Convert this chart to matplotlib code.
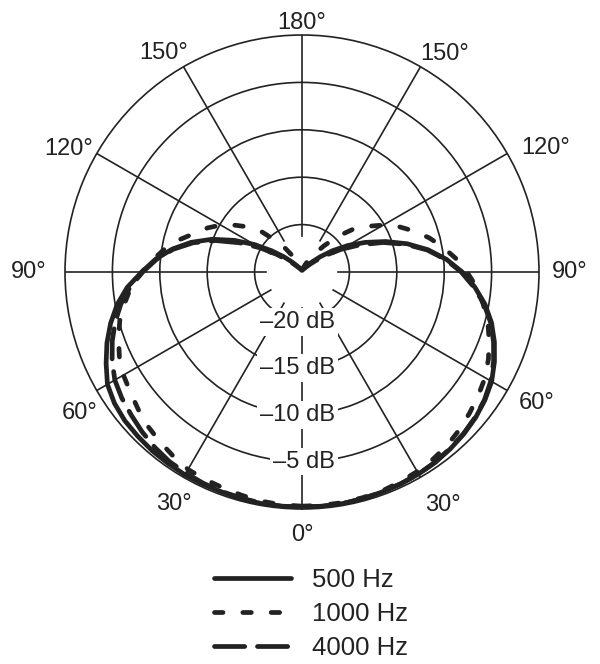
import numpy as np
import matplotlib
matplotlib.use("Agg")
import matplotlib.pyplot as plt
from matplotlib.transforms import offset_copy

# polar response, dB relative to on-axis. angles measured from 0 (front, bottom)
angles = np.arange(0, 181, 5)

# right half of the plot / left half of the plot, read every 5 deg
hz500_right = [-0.2, -0.2, -0.2, -0.25, -0.3, -0.35, -0.4, -0.5, -0.65, -0.85,
               -1.1, -1.45, -1.9, -2.6, -3.4, -4.3, -5.4, -6.7, -8.1, -9.7,
               -11.5, -13.5, -15.6, -17.6, -19.4, -21.1, -22.5, -23.5, -24.1, -24.4,
               -24.5, -24.6, -24.7, -24.75, -24.8, -24.8, -24.8]
hz500_left = [-0.2, -0.2, -0.2, -0.25, -0.3, -0.3, -0.3, -0.35, -0.4, -0.5,
              -0.6, -0.85, -1.3, -2.2, -3.1, -4.1, -5.2, -6.5, -8.1, -9.5,
              -11.1, -12.9, -14.9, -17.1, -19.2, -21.1, -22.5, -23.5, -24.1, -24.4,
              -24.5, -24.6, -24.7, -24.75, -24.8, -24.8, -24.8]

hz1000_right = [-0.3, -0.3, -0.3, -0.35, -0.4, -0.55, -0.7, -0.9, -1.15, -1.5,
                -1.9, -2.3, -2.7, -3.3, -4.0, -4.7, -5.6, -6.5, -7.6, -8.7,
                -9.9, -11.1, -12.4, -13.7, -15.1, -16.6, -18.0, -19.7, -21.4, -22.6,
                -23.4, -24.0, -24.4, -24.6, -24.7, -24.8, -24.8]
hz1000_left = [-0.3, -0.35, -0.45, -0.6, -0.75, -0.85, -0.95, -1.3, -1.65, -2.0,
               -2.45, -2.9, -3.25, -3.75, -4.4, -5.1, -6.0, -6.9, -8.1, -9.3,
               -10.4, -11.7, -13.0, -14.0, -15.1, -16.4, -17.6, -19.0, -20.7, -22.0,
               -23.1, -23.9, -24.3, -24.6, -24.7, -24.8, -24.8]

hz4000_right = [-0.2, -0.2, -0.2, -0.25, -0.3, -0.35, -0.4, -0.5, -0.7, -0.9,
                -1.15, -1.5, -2.0, -2.7, -3.5, -4.4, -5.5, -6.8, -8.2, -9.8,
                -11.6, -13.7, -15.9, -18.2, -20.2, -21.9, -23.2, -23.9, -24.3, -24.5,
                -24.6, -24.65, -24.7, -24.75, -24.8, -24.8, -24.8]
hz4000_left = [-0.2, -0.2, -0.25, -0.3, -0.35, -0.4, -0.5, -0.6, -0.85, -1.15,
               -1.5, -1.8, -2.2, -2.9, -3.7, -4.6, -5.6, -6.8, -8.2, -9.6,
               -11.2, -13.1, -15.3, -17.7, -19.9, -21.8, -23.1, -23.9, -24.3, -24.5,
               -24.6, -24.65, -24.7, -24.75, -24.8, -24.8, -24.8]

series_labels = ["500 Hz", "1000 Hz", "4000 Hz"]
ring_db = [-20, -15, -10, -5]
ring_labels = ["\u201320 dB", "\u201315 dB", "\u201310 dB", "\u20135 dB"]
ring_label_r = [-19.7, -14.9, -9.9, -5.0]

# angle labels: text, theta (deg), radius (dB)
angle_text = ["0°", "30°", "60°", "90°", "120°", "150°", "180°",
              "150°", "120°", "90°", "60°", "30°"]
angle_pos = [0, 31.2, 60.8, 90, 116.9, 146.9, 180,
             212.4, 242.1, 270, 302.3, 331.1]
angle_rad = [2.7, 3.7, 3.4, 3.2, 3.8, 2.5, 1.3,
             2.3, 2.8, 3.8, 2.8, 3.0]

ink = "#222222"
plt.rcParams["font.family"] = ["Liberation Sans", "DejaVu Sans"]


def full_loop(right, left):
    # go down the right side 0..180, then back up the left side 180..360
    th = np.concatenate([angles, 360 - angles[::-1]])
    r = np.concatenate([right, left[::-1]])
    return np.deg2rad(th), r


fig = plt.figure(figsize=(6, 6.64), dpi=100)
ax = fig.add_axes([65 / 600, 155 / 664, 474 / 600, 474 / 664], projection="polar")
ax.set_theta_zero_location("S")
ax.set_ylim(-25, 0)
ax.set_xticks([])
ax.set_yticks(ring_db)
ax.set_yticklabels([])
ax.yaxis.grid(True, color=ink, lw=1.2)
ax.set_axisbelow(True)
ax.spines["polar"].set_color(ink)
ax.spines["polar"].set_linewidth(1.2)

# spokes every 30 deg, starting just inside the -20 dB ring
for a in range(0, 360, 30):
    ax.plot([np.deg2rad(a)] * 2, [-21.2, 0], color=ink, lw=1.2, zorder=1)

# dB labels along the 0 deg spoke
trans = offset_copy(ax.transData, fig=fig, x=33, y=0, units="dots")
for r, lab in zip(ring_label_r, ring_labels):
    ax.text(0, r, lab, transform=trans, ha="right", va="center", fontsize=17,
            color=ink, zorder=3,
            bbox=dict(facecolor="white", edgecolor="none", pad=2))

for txt, a, r in zip(angle_text, angle_pos, angle_rad):
    ax.text(np.deg2rad(a), r, txt, ha="center", va="center", fontsize=17,
            color=ink, clip_on=False)

lw = 3.4
th, r = full_loop(hz500_right, hz500_left)
l1, = ax.plot(th, r, color=ink, lw=lw, solid_capstyle="round",
              solid_joinstyle="round", zorder=4)
th, r = full_loop(hz1000_right, hz1000_left)
l2, = ax.plot(th, r, color=ink, lw=lw, ls=(0, (1.8, 4.2)),
              dash_capstyle="round", zorder=4)
th, r = full_loop(hz4000_right, hz4000_left)
l3, = ax.plot(th, r, color=ink, lw=lw, ls=(0, (6.4, 2.7)),
              dash_capstyle="round", zorder=4)

fig.legend([l1, l2, l3], series_labels, loc="center",
           bbox_to_anchor=(311 / 600, 50 / 664), frameon=False,
           fontsize=18.5, handlelength=3.0, handletextpad=0.8,
           labelspacing=0.38, borderpad=0, labelcolor=ink)

fig.savefig("out.png", dpi=100)
